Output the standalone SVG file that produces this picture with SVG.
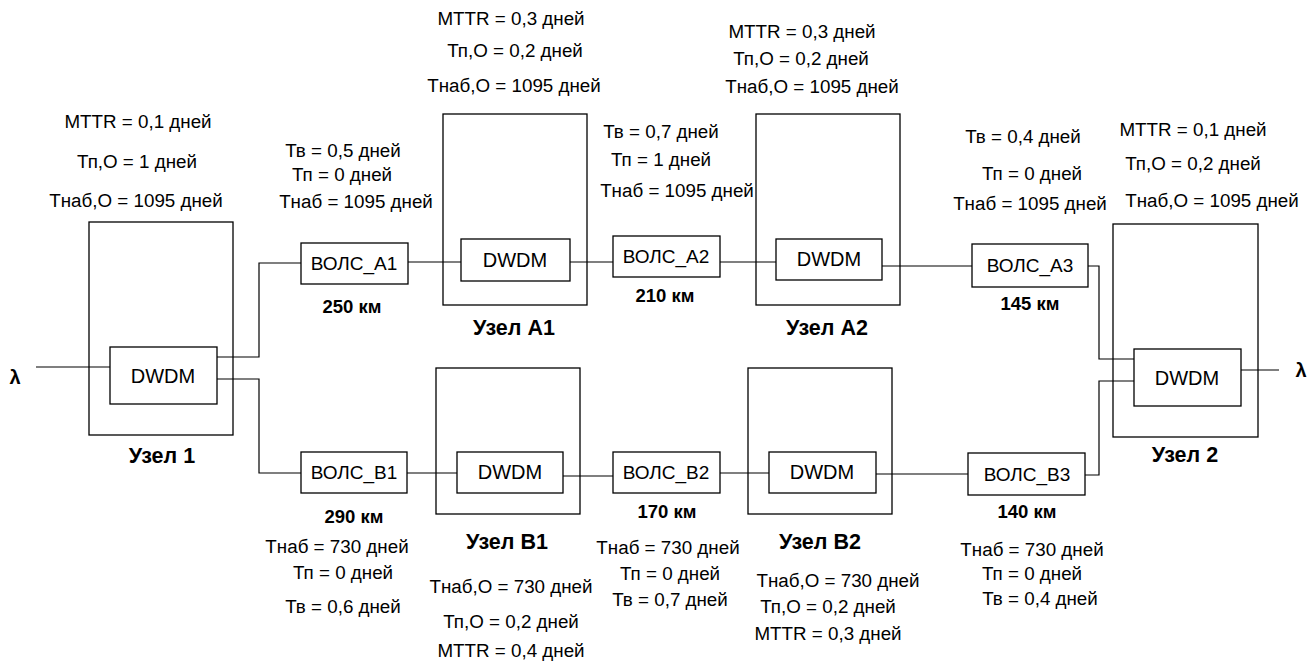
<svg xmlns="http://www.w3.org/2000/svg" width="1316" height="664" viewBox="0 0 1316 664">
<style>
.box{fill:none;stroke:#000;stroke-width:1.3}
.wire{fill:none;stroke:#000;stroke-width:1.2}
text{font-family:"Liberation Sans",Arial,sans-serif;fill:#000;text-anchor:middle}
.p{font-size:18.8px}
.b{font-size:19px}
.d{font-size:20px}
.lbl{font-size:21.5px;font-weight:bold}
.km{font-size:18.5px;font-weight:bold}
.lam{font-size:20px;font-weight:bold}
</style>
<rect width="1316" height="664" fill="#fff"/>
<g id="connectors">
<polyline class="wire" points="36,367 110,367"/>
<polyline class="wire" points="217,357 259,357 259,263 301,263"/>
<polyline class="wire" points="217,379 259,379 259,473 301,473"/>
<polyline class="wire" points="408,262 461,262"/>
<polyline class="wire" points="570,262 613,262"/>
<polyline class="wire" points="720,262 776,262"/>
<polyline class="wire" points="882,266 972,266"/>
<polyline class="wire" points="1088,266 1099,266 1099,359 1134,359"/>
<polyline class="wire" points="407,473 457,473"/>
<polyline class="wire" points="563,476 613,476"/>
<polyline class="wire" points="720,473 769,473"/>
<polyline class="wire" points="876,474 968,474"/>
<polyline class="wire" points="1085,475 1099,475 1099,381 1134,381"/>
<polyline class="wire" points="1241,370 1279,370"/>
</g>
<g id="lambda-in"><text class="lam" x="15" y="384">λ</text></g>
<g id="lambda-out"><text class="lam" x="1301" y="377">λ</text></g>
<g id="node1">
<rect class="box" x="89" y="222" width="144" height="213"/>
<rect class="box" x="110" y="347" width="107" height="57"/>
<text class="d" x="163" y="383">DWDM</text>
<text class="lbl" x="162" y="463">Узел 1</text>
<text class="p" x="138" y="128">MTTR = 0,1 дней</text>
<text class="p" x="137" y="168">Тп,О = 1 дней</text>
<text class="p" x="136" y="207">Тнаб,О = 1095 дней</text>
</g>
<g id="volsA1">
<rect class="box" x="301" y="243" width="107" height="41"/>
<text class="b" x="354" y="270">ВОЛС_А1</text>
<text class="km" x="352" y="313">250 км</text>
<text class="p" x="343" y="157">Тв = 0,5 дней</text>
<text class="p" x="342" y="181">Тп = 0 дней</text>
<text class="p" x="356" y="208">Тнаб = 1095 дней</text>
</g>
<g id="nodeA1">
<rect class="box" x="443" y="114" width="144" height="191"/>
<rect class="box" x="461" y="239" width="109" height="42"/>
<text class="d" x="515" y="267">DWDM</text>
<text class="lbl" x="514" y="335">Узел А1</text>
<text class="p" x="511" y="25">MTTR = 0,3 дней</text>
<text class="p" x="515" y="57">Тп,О = 0,2 дней</text>
<text class="p" x="514" y="92">Тнаб,О = 1095 дней</text>
</g>
<g id="volsA2">
<rect class="box" x="613" y="236" width="107" height="41"/>
<text class="b" x="666" y="263">ВОЛС_А2</text>
<text class="km" x="665" y="302">210 км</text>
<text class="p" x="661" y="138">Тв = 0,7 дней</text>
<text class="p" x="661" y="166">Тп = 1 дней</text>
<text class="p" x="677" y="197">Тнаб = 1095 дней</text>
</g>
<g id="nodeA2">
<rect class="box" x="756" y="114" width="144" height="191"/>
<rect class="box" x="776" y="239" width="106" height="41"/>
<text class="d" x="829" y="266">DWDM</text>
<text class="lbl" x="827" y="335">Узел А2</text>
<text class="p" x="802" y="38">MTTR = 0,3 дней</text>
<text class="p" x="801" y="65">Тп,О = 0,2 дней</text>
<text class="p" x="812" y="93">Тнаб,О = 1095 дней</text>
</g>
<g id="volsA3">
<rect class="box" x="972" y="244" width="116" height="43"/>
<text class="b" x="1030" y="272">ВОЛС_А3</text>
<text class="km" x="1030" y="310">145 км</text>
<text class="p" x="1023" y="143">Тв = 0,4 дней</text>
<text class="p" x="1032" y="180">Тп = 0 дней</text>
<text class="p" x="1030" y="210">Тнаб = 1095 дней</text>
</g>
<g id="node2">
<rect class="box" x="1113" y="224" width="145" height="213"/>
<rect class="box" x="1134" y="349" width="107" height="57"/>
<text class="d" x="1187" y="385">DWDM</text>
<text class="lbl" x="1185" y="462">Узел 2</text>
<text class="p" x="1193" y="136">MTTR = 0,1 дней</text>
<text class="p" x="1193" y="170">Тп,О = 0,2 дней</text>
<text class="p" x="1212" y="207">Тнаб,О = 1095 дней</text>
</g>
<g id="volsB1">
<rect class="box" x="301" y="452" width="106" height="41"/>
<text class="b" x="354" y="479">ВОЛС_В1</text>
<text class="km" x="354" y="523">290 км</text>
<text class="p" x="337" y="553">Тнаб = 730 дней</text>
<text class="p" x="343" y="579">Тп = 0 дней</text>
<text class="p" x="343" y="613">Тв = 0,6 дней</text>
</g>
<g id="nodeB1">
<rect class="box" x="436" y="368" width="144" height="146"/>
<rect class="box" x="457" y="452" width="106" height="41"/>
<text class="d" x="510" y="479">DWDM</text>
<text class="lbl" x="507" y="549">Узел В1</text>
<text class="p" x="511" y="593">Тнаб,О = 730 дней</text>
<text class="p" x="511" y="628">Тп,О = 0,2 дней</text>
<text class="p" x="511" y="657">MTTR = 0,4 дней</text>
</g>
<g id="volsB2">
<rect class="box" x="613" y="452" width="107" height="41"/>
<text class="b" x="666" y="479">ВОЛС_В2</text>
<text class="km" x="667" y="518">170 км</text>
<text class="p" x="668" y="554">Тнаб = 730 дней</text>
<text class="p" x="670" y="580">Тп = 0 дней</text>
<text class="p" x="670" y="606">Тв = 0,7 дней</text>
</g>
<g id="nodeB2">
<rect class="box" x="748" y="368" width="144" height="146"/>
<rect class="box" x="769" y="452" width="107" height="41"/>
<text class="d" x="822" y="479">DWDM</text>
<text class="lbl" x="820" y="549">Узел В2</text>
<text class="p" x="838" y="587">Тнаб,О = 730 дней</text>
<text class="p" x="828" y="613">Тп,О = 0,2 дней</text>
<text class="p" x="828" y="640">MTTR = 0,3 дней</text>
</g>
<g id="volsB3">
<rect class="box" x="968" y="453" width="117" height="42"/>
<text class="b" x="1027" y="481">ВОЛС_В3</text>
<text class="km" x="1027" y="518">140 км</text>
<text class="p" x="1032" y="556">Тнаб = 730 дней</text>
<text class="p" x="1032" y="580">Тп = 0 дней</text>
<text class="p" x="1040" y="605">Тв = 0,4 дней</text>
</g>
</svg>
